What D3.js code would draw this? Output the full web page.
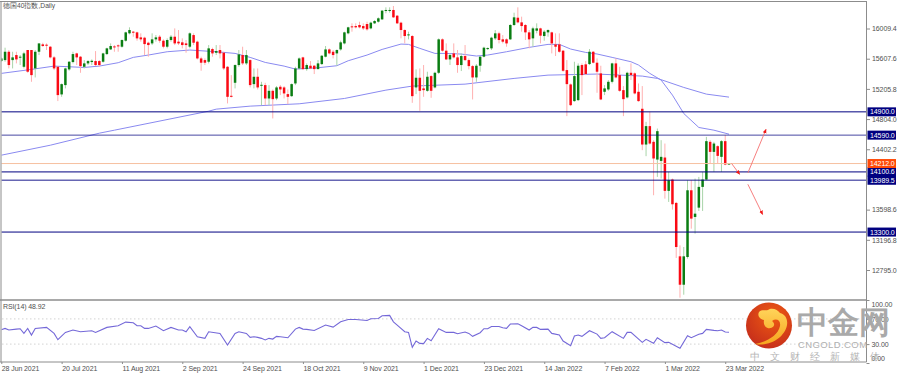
<!DOCTYPE html>
<html><head><meta charset="utf-8">
<script src="https://cdn.jsdelivr.net/npm/d3@7/dist/d3.min.js"></script>
<style>html,body{margin:0;padding:0;background:#fff}svg{display:block}text{font-family:"Liberation Sans",sans-serif}</style>
</head><body><div id="c"></div>
<script>
const opens=[15576,15589,15700,15589,15656,15625,15500,15723,15723,15478,15700,15798,15794,15767,15625,15500,15132,15256,15465,15563,15678,15634,15500,15545,15563,15576,15576,15567,15669,15731,15771,15785,15767,15847,15945,15967,15958,15891,15887,15820,15811,15865,15900,15847,15767,15856,15900,15834,15825,15811,15767,15922,15834,15611,15589,15567,15736,15687,15723,15687,15500,15114,15287,15523,15656,15545,15589,15269,15367,15252,15256,15078,15180,15078,15234,15225,15136,15109,15278,15478,15625,15469,15514,15514,15469,15536,15634,15731,15700,15678,15731,15811,15945,16038,16042,16056,16042,16069,16011,16078,16100,16131,16242,16247,16256,16180,16087,15989,15918,15909,15225,15354,15212,15180,15376,15225,15420,15865,15714,15598,15678,15625,15523,15643,15589,15509,15358,15514,15634,15740,15745,15878,15945,15865,15865,15865,16056,16153,16091,16056,15958,15878,15980,16011,15909,15958,15958,15798,15798,15714,15456,15265,15043,15056,15523,15532,15536,15700,15554,15412,15167,15198,15300,15545,15389,15189,15092,15420,15412,15167,14941,14465,14710,14501,14265,14247,14292,13848,13999,13688,12977,12599,12968,13856,13501,13625,13901,13999,14501,14367,14443,14301,14510,14199];
const highs=[15625,15754,15723,15700,15700,15656,15700,15723,15723,15723,15811,15820,15811,15776,15643,15509,15278,15487,15576,15700,15687,15643,15589,15589,15598,15709,15589,15687,15754,15811,15789,15798,15865,15967,16025,15976,15967,15945,15900,15834,15945,15922,15922,15865,15878,15922,16011,15989,15878,15856,15958,15945,15847,15634,15611,15789,15754,15789,15789,15700,15509,15389,15532,15723,15767,15723,15598,15478,15478,15300,15287,15256,15198,15243,15256,15243,15198,15278,15500,15625,15634,15545,15576,15523,15589,15656,15776,15745,15723,15731,15847,15967,16033,16078,16078,16100,16078,16100,16100,16122,16158,16256,16291,16291,16309,16189,16100,15998,15967,15922,15465,15478,15523,15434,15389,15434,15878,15878,15811,15678,15811,15723,15678,15789,15611,15523,15536,15643,15767,15758,15900,15989,15967,15922,15878,16069,16220,16291,16167,16069,15989,16033,16078,16020,15989,15998,15967,15945,15945,15723,15589,15278,15567,15545,15545,15576,15736,15709,15611,15514,15256,15323,15554,15611,15500,15243,15434,15545,15425,15278,15243,14767,14901,14523,14678,14523,14478,14101,14012,13701,13123,13101,13990,13990,14012,14034,14101,14567,14523,14501,14456,14523,14590,14216];
const lows=[15563,15567,15478,15478,15545,15523,15478,15420,15300,15358,15656,15767,15723,15611,15456,15043,15100,15212,15447,15545,15523,15420,15478,15523,15523,15509,15500,15554,15656,15723,15700,15700,15754,15834,15931,15900,15847,15834,15656,15634,15789,15834,15820,15745,15745,15834,15789,15789,15745,15687,15745,15789,15598,15447,15523,15545,15634,15656,15611,15456,15012,15092,15212,15500,15523,15523,15225,15212,15198,14989,14989,14989,14812,15056,15123,15078,15003,15100,15256,15465,15456,15447,15469,15403,15465,15523,15625,15665,15611,15514,15714,15798,15931,15967,16011,16011,15989,15980,15998,16069,16087,16122,16211,16220,16149,16069,15878,15811,15865,15020,15136,14914,15100,15167,15087,15212,15403,15700,15589,15523,15611,15420,15443,15576,15465,15065,15300,15434,15625,15723,15723,15856,15811,15811,15767,15856,16042,16078,15967,15856,15745,15767,15945,15811,15847,15900,15678,15643,15687,15434,14843,14976,15034,15043,15123,15389,15523,15545,15154,15056,15123,15180,15278,15345,15167,14843,15078,15323,15132,15034,14390,14310,14465,13790,14034,14012,13745,13701,13599,12955,12426,12466,12946,13345,13279,13581,13581,13990,14212,14101,14212,14101,14190,14194];
const closes=[15611,15700,15523,15625,15598,15634,15678,15434,15389,15700,15811,15776,15780,15625,15478,15123,15269,15478,15567,15669,15625,15509,15545,15576,15580,15523,15523,15678,15745,15776,15762,15776,15856,15958,15989,15954,15878,15865,15802,15789,15865,15891,15847,15767,15856,15900,15811,15811,15789,15789,15945,15820,15611,15554,15554,15745,15678,15709,15678,15478,15100,15100,15523,15665,15545,15656,15256,15367,15225,15260,15078,15180,15069,15225,15198,15145,15100,15269,15478,15611,15469,15523,15478,15469,15545,15647,15731,15678,15656,15723,15825,15958,16025,16029,16025,16025,16011,15998,16087,16109,16145,16247,16256,16256,16158,16078,15989,15909,15931,15109,15354,15180,15189,15367,15180,15420,15865,15714,15598,15656,15625,15523,15643,15589,15509,15358,15514,15634,15754,15749,15887,15945,15856,15834,15811,16056,16158,16091,16042,15958,15865,16011,16011,15914,15967,15989,15811,15767,15700,15447,15269,14989,15376,15514,15389,15403,15700,15554,15434,15065,15212,15300,15545,15358,15180,15069,15420,15389,15145,15043,14465,14710,14478,14279,14643,14301,13848,13990,13670,13101,12599,12977,13856,13479,13545,13901,13999,14510,14367,14478,14314,14510,14199,14212];
const maIdx=[0,8,14,22,26,31,35,39,44,50,57,62,66,70,75,78,84,89,92,97,101,106,108,111,115,118,122,126,129,134,140,145,148,151,155,158,162,167,169,172,175,178,181,185,189,193];
const maFast=[15412,15465,15509,15491,15509,15554,15625,15656,15700,15723,15700,15678,15625,15558,15509,15469,15487,15514,15580,15656,15731,15802,15798,15745,15678,15678,15669,15643,15656,15700,15758,15798,15798,15736,15691,15670,15625,15567,15523,15412,15323,15123,14878,14692,14656,14603];
const slowIdx=[0,13,26,30,55,57,66,79,91,102,109,123,136,145,158,170,174,181,187,193];
const maSlow=[14323,14456,14616,14656,14909,14936,14976,15007,15078,15189,15243,15269,15345,15389,15403,15376,15345,15225,15136,15096];
const rsiIdx=[0,1,2,4,5,6,7,8,9,12,14,15,17,19,21,24,25,28,31,33,35,36,37,38,39,41,43,45,47,48,49,50,52,54,55,58,60,62,63,65,66,67,68,69,70,71,72,73,74,76,78,79,80,81,83,86,88,90,92,94,97,98,100,101,103,104,105,107,108,109,110,111,112,113,114,116,118,120,121,123,124,125,127,128,129,130,132,133,134,135,137,138,140,141,142,143,145,146,148,149,151,152,153,154,156,158,159,160,162,165,166,167,170,171,173,174,176,177,180,182,183,185,186,187,189,190,191,192,193];
const rsiVal=[52.8,54.9,52.3,53.8,54.4,47,54.9,44.4,54.9,56.5,47,37,48.6,52.3,49.6,51.2,48.6,56.5,59.1,64.9,63.9,59.1,59.1,54.9,54.9,58.6,51.2,56.5,52.3,52.3,49.6,57.5,41.7,39.1,49.6,47,28.5,47,49.6,47,40.7,41.7,40.7,39.1,36.5,39.1,38,42.3,41.7,40.1,53.8,56.5,53.8,53.3,51.7,60.2,57,65.4,69.1,69.1,67.5,70.2,70.7,74.9,75.5,65.4,60.2,49.6,48.6,24.9,34.9,31.2,30.7,39.1,35.4,54.4,48.6,48.6,46.5,49.1,47,42.3,48.1,54.4,54.4,58,58,56,54.9,61.8,62.3,59.1,52.3,56.5,56.5,53.3,53.8,47,44.4,34.9,27.5,42.8,44.4,42.3,51.2,45.9,39.1,40.2,49.7,39.1,48.6,48.6,32.8,37.6,31.2,40.2,32.3,32.8,23.3,43.4,40.2,45.5,47,53.4,51.8,51.3,52.3,49.1,48.92];
const dateIdx=[0,16,32,48,64,80,96,112,128,144,160,176,192];
const dateLabels=["28 Jun 2021","20 Jul 2021","11 Aug 2021","2 Sep 2021","24 Sep 2021","18 Oct 2021","9 Nov 2021","1 Dec 2021","23 Dec 2021","14 Jan 2022","7 Feb 2022","1 Mar 2022","23 Mar 2022"];
const priceTicks=[16009.4,15607.6,15205.8,14804.0,14402.2,13598.6,13196.8,12795.0];
const levels=[14900,14590,14100.6,13989.5,13300];
const levelOpacity=[1,.72,1,.6,1];
const levelWidth=[1,1,1,1.6,1];
const lastPrice=14212;
const rsiTicks=[100,70,30,0];
const arrows=[[193.7,14212,195.8,14070],[198,14087,202.8,14665],[198,13936,201.9,13537]];
const title="德国40指数,Daily", rsiTitle="RSI(14) 48.92";

const W=903,H=375,R=866.5;
const svg=d3.select("#c").append("svg").attr("width",W).attr("height",H);
const x=d3.scaleLinear().domain([0,193]).range([1.3,729]);
const y=d3.scaleLinear().domain([16009.4,12795]).range([28.5,270]);
const yr=d3.scaleLinear().domain([100,0]).range([300,363]);
const navy="#000080",grey="#8c8c8c",txt="#505050",fs=7;

svg.append("defs").html(`<clipPath id="cp"><rect x="1.5" y="2" width="${R-1.5}" height="297"/></clipPath>
<clipPath id="cr"><rect x="1.5" y="301" width="${R-1.5}" height="61"/></clipPath>
<radialGradient id="lg" cx="60%" cy="30%" r="80%"><stop offset="0" stop-color="#ee5a12"/><stop offset="1" stop-color="#c22a1c"/></radialGradient>
<linearGradient id="sw" x1="0" y1="0" x2="0" y2="1"><stop offset="0" stop-color="#ffd45a"/><stop offset="1" stop-color="#f7a51e"/></linearGradient>
<marker id="ah" viewBox="0 0 6 6" refX="5" refY="3" markerWidth="5" markerHeight="5" orient="auto"><path d="M0,0.5L6,3L0,5.5z" fill="#f01818"/></marker>`);

const main=svg.append("g").attr("clip-path","url(#cp)");
const line=(xs,ys,sx,sy)=>d3.line().x((d,i)=>sx(xs[i])).y((d,i)=>sy(ys[i]))(xs);
main.append("path").attr("d",line(slowIdx,maSlow,x,y)).attr("fill","none").attr("stroke","#8a8af0").attr("stroke-width",1);
main.append("path").attr("d",line(maIdx,maFast,x,y)).attr("fill","none").attr("stroke","#8a8af0").attr("stroke-width",1);
const bars=main.append("g").selectAll("g").data(d3.range(opens.length)).join("g");
const up=i=>closes[i]>=opens[i];
bars.append("line").attr("x1",i=>x(i)).attr("x2",i=>x(i)).attr("y1",i=>y(highs[i])).attr("y2",i=>y(lows[i]))
 .attr("stroke",i=>up(i)?"#a8d4a8":"#ffb0b0").attr("stroke-width",1);
bars.append("rect").attr("x",i=>x(i)-1.25).attr("width",2.5)
 .attr("y",i=>Math.min(y(opens[i]),y(closes[i]))).attr("height",i=>Math.max(1,Math.abs(y(opens[i])-y(closes[i]))))
 .attr("fill",i=>up(i)?"#0a7d12":"#fa0a14");
main.selectAll(".lv").data(levels).join("line").attr("x1",0).attr("x2",R)
 .attr("y1",d=>y(d)).attr("y2",d=>y(d)).attr("stroke",navy)
 .attr("stroke-opacity",(d,i)=>levelOpacity[i]).attr("stroke-width",(d,i)=>levelWidth[i]);
main.append("line").attr("x1",0).attr("x2",R).attr("y1",y(lastPrice)).attr("y2",y(lastPrice)).attr("stroke","#f6c0a0");
main.selectAll(".ar").data(arrows).join("line").attr("x1",d=>x(d[0])).attr("y1",d=>y(d[1])).attr("x2",d=>x(d[2])).attr("y2",d=>y(d[3]))
 .attr("stroke","#f57070").attr("stroke-width",.9).attr("marker-end","url(#ah)");

const rg=svg.append("g").attr("clip-path","url(#cr)");
rg.selectAll(".l").data([70,30]).join("line").attr("x1",2).attr("x2",R).attr("y1",d=>yr(d)).attr("y2",d=>yr(d))
 .attr("stroke","#c8c8c8").attr("stroke-width",.8).attr("stroke-dasharray","1.5,2.5");
rg.append("path").attr("d",line(rsiIdx,rsiVal,x,yr)).attr("fill","none").attr("stroke","#7468d8").attr("stroke-width",1.1);

const fr=svg.append("g").attr("fill","none").attr("stroke",grey);
fr.append("path").attr("d",`M0,1.5H${R}M1,1V362M${R},1V362M0,362H${R}`);
fr.append("line").attr("x1",0).attr("x2",R).attr("y1",300).attr("y2",300).attr("stroke-width",1.6);

function style(g){g.select(".domain").remove();g.selectAll(".tick line").attr("stroke",grey);
 g.selectAll("text").attr("fill",txt).attr("font-size",fs).attr("letter-spacing",-.1).attr("font-family","Liberation Sans");}
svg.append("g").attr("transform",`translate(${R},0)`).call(d3.axisRight(y).tickValues(priceTicks).tickSize(3.5).tickPadding(2).tickFormat(d3.format(".1f"))).call(style);
svg.append("g").attr("transform",`translate(${R},0)`).call(d3.axisRight(yr).tickValues(rsiTicks).tickSize(3).tickPadding(2).tickFormat(d3.format(".2f"))).call(style)
 .selectAll("text").attr("y",d=>d==100?4:d==0?-5:0);
svg.append("g").attr("transform","translate(0,362)").call(d3.axisBottom(x).tickValues(dateIdx).tickSize(2).tickPadding(2).tickFormat((d,i)=>dateLabels[i])).call(style)
 .selectAll("text").attr("text-anchor","start").attr("dx",0);

const tags=svg.append("g").selectAll("g").data(levels.map(v=>({v,c:navy})).concat([{v:lastPrice,c:"#ff4a08"}])).join("g")
 .attr("transform",d=>`translate(867.5,${y(d.v)})`);
tags.append("rect").attr("y",-4.5).attr("width",28.5).attr("height",9).attr("fill",d=>d.c);
tags.append("text").attr("x",2.5).attr("y",2.5).attr("fill","#fff").attr("font-size",fs).attr("letter-spacing",-.1).text(d=>d3.format(".1f")(d.v));

svg.append("text").attr("x",3).attr("y",7.5).attr("fill",txt).attr("font-size",6.7).attr("font-family","Noto Sans CJK SC").text(title);
svg.append("text").attr("x",3).attr("y",309).attr("fill",txt).attr("font-size",fs).attr("letter-spacing",-.1).text(rsiTitle);

const wm=svg.append("g");
wm.append("circle").attr("cx",769).attr("cy",325.5).attr("r",23).attr("fill","url(#lg)");
wm.append("path").attr("fill","url(#sw)").attr("d","M755,344C766,342 778,336 780,326C781,320 776,318 772,321C775,323 775,327 771,328C766,329 763,325 764,320C760,319 757,316 759,312C762,309 765,311 768,310C772,307 778,310 780,313C785,314 788,319 787,325C785,337 770,347 755,344Z");
wm.append("text").attr("x",797).attr("y",333).attr("font-size",31).attr("font-weight",700).attr("fill","#a9a9a9").attr("font-family","Noto Sans CJK SC").text("中金网");
wm.append("text").attr("x",798).attr("y",347.5).attr("font-size",9.5).attr("letter-spacing",.4).attr("fill","#b0b0b0").text("CNGOLD.COM");
wm.append("text").attr("x",750).attr("y",360).attr("font-size",10).attr("letter-spacing",10).attr("fill","#b4b4b4").attr("font-family","Noto Sans CJK SC").text("中文财经新媒体");
</script></body></html>
